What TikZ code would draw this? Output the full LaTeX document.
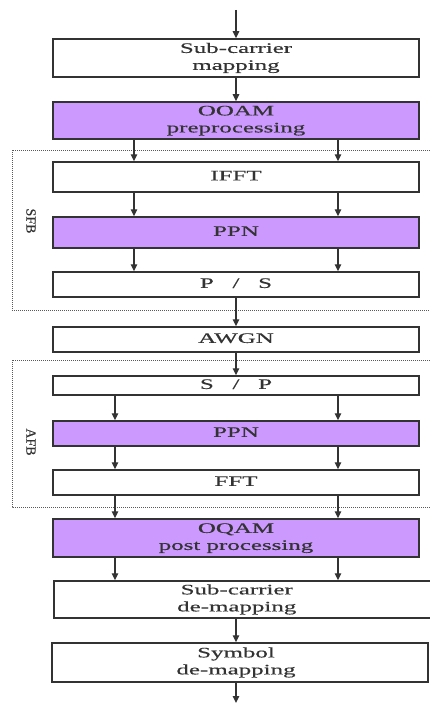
\documentclass[tikz,border=0pt]{standalone}
\usepackage{fontspec}
\setmainfont{Liberation Serif}
\newfontfamily\boxfont{Liberation Serif}[FakeBold=0.35]
\usetikzlibrary{arrows.meta}
\definecolor{inkgray}{HTML}{333333}
\definecolor{lilac}{HTML}{CC99FF}
\newcommand{\wlabel}[1]{\scalebox{1.72}[1]{\begin{tabular}{@{}c@{}}#1\end{tabular}}}
\newcommand{\slashgap}{\hspace{0.75em}/\hspace{0.75em}}
\tikzset{
  blockbox/.style={draw=inkgray, line width=1.5pt, fill=white, minimum width=366pt,
    inner sep=0pt, font=\boxfont\fontsize{14.5}{17}\selectfont, text=black!80},
  procbox/.style={blockbox, fill=lilac},
  flow/.style={draw=inkgray, line width=1.3pt, -{Triangle[length=7pt,width=6.5pt]}},
  bankframe/.style={draw=black!65, line width=1pt, dash pattern=on 1pt off 1pt},
  banklabel/.style={rotate=-90, font=\boxfont\fontsize{14}{16}\selectfont, text=black!80}
}
\begin{document}
\begin{tikzpicture}[x=1pt, y=-1pt]
\useasboundingbox (0,0) rectangle (430,706);

% filter bank frames (open on the right)
\draw[bankframe] (432,150) -- (12,150) -- (12,310) -- (432,310);
\draw[bankframe] (432,360) -- (12,360) -- (12,507) -- (432,507);
\node[banklabel] (sfb) at (31,221) {SFB};
\node[banklabel] (afb) at (31,442) {AFB};

% processing chain
\node[blockbox, minimum height=38pt] (map)   at (236,58)    {\wlabel{Sub-carrier\\mapping}};
\node[procbox,  minimum height=37pt] (pre)   at (236,120.5) {\wlabel{OOAM\\preprocessing}};
\node[blockbox, minimum height=30pt] (ifft)  at (236,177)   {\wlabel{IFFT}};
\node[procbox,  minimum height=31pt] (ppna)  at (236,232.5) {\wlabel{PPN}};
\node[blockbox, minimum height=25pt] (ps)    at (236,284.5) {\wlabel{P\slashgap S}};
\node[blockbox, minimum height=25pt] (awgn)  at (236,339.5) {\wlabel{AWGN}};
\node[blockbox, minimum height=19pt] (sp)    at (236,385.5) {\wlabel{S\slashgap P}};
\node[procbox,  minimum height=25pt] (ppnb)  at (236,433.5) {\wlabel{PPN}};
\node[blockbox, minimum height=25pt] (fft)   at (236,482.5) {\wlabel{FFT}};
\node[procbox,  minimum height=38pt] (post)  at (236,538)   {\wlabel{OQAM\\post processing}};
\node[blockbox, minimum height=37pt, minimum width=380pt, anchor=west] (demap) at (53,599.5) {\hspace*{-14pt}\wlabel{Sub-carrier\\de-mapping}};
\node[blockbox, minimum height=39pt, minimum width=376pt] (sym) at (240,662.5) {\hspace*{-8pt}\wlabel{Symbol\\de-mapping}};

\coordinate (in)  at (236,10);
\coordinate (out) at (236,703);

% single-stream arrows
\draw[flow] (in) -- (map.north);
\draw[flow] (map) -- (pre);
\draw[flow] (ps) -- (awgn);
\draw[flow] (awgn) -- (sp);
\draw[flow] (demap.south -| in) -- (sym.north -| in);
\draw[flow] (sym.south -| in) -- (out);

% parallel-stream arrows
\foreach \x in {134,338} {
  \draw[flow] (pre.south -| \x,0) -- (ifft.north -| \x,0);
  \draw[flow] (ifft.south -| \x,0) -- (ppna.north -| \x,0);
  \draw[flow] (ppna.south -| \x,0) -- (ps.north -| \x,0);
}
\foreach \x in {115,338} {
  \draw[flow] (sp.south -| \x,0) -- (ppnb.north -| \x,0);
  \draw[flow] (ppnb.south -| \x,0) -- (fft.north -| \x,0);
  \draw[flow] (fft.south -| \x,0) -- (post.north -| \x,0);
  \draw[flow] (post.south -| \x,0) -- (demap.north -| \x,0);
}
\end{tikzpicture}
\end{document}
